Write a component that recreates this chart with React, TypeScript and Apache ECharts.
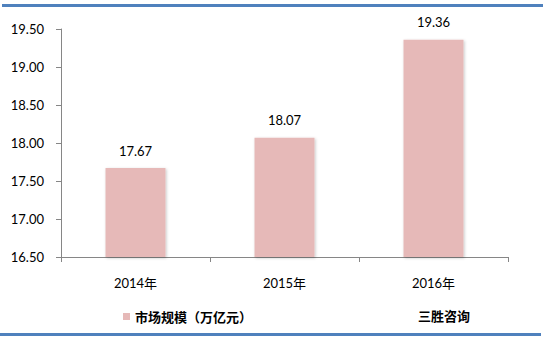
import React, { useEffect, useRef } from "react";
import * as echarts from "echarts";

const categories = ["2014年", "2015年", "2016年"];
const values = [17.67, 18.07, 19.36];
const seriesName = "市场规模（万亿元）";
const sourceText = "三胜咨询";

export default function App() {
  const ref = useRef<HTMLDivElement>(null);
  useEffect(() => {
    if (!ref.current) return;
    const chart = echarts.init(ref.current, undefined, { renderer: "svg" });
    const font = "Lato, 'Noto Sans CJK SC', sans-serif";
    chart.setOption({
      animation: false,
      backgroundColor: "#ffffff",
      textStyle: { fontFamily: font },
      grid: { left: 61, right: 35, top: 29, bottom: 86 },
      legend: {
        data: [seriesName],
        left: 123,
        top: 310,
        padding: 0,
        itemWidth: 7,
        itemHeight: 7,
        icon: "rect",
        textStyle: { fontSize: 13, fontWeight: "bold", color: "#000", fontFamily: font },
      },
      xAxis: {
        type: "category",
        data: categories,
        axisLine: { lineStyle: { color: "#868686" } },
        axisTick: { show: true, length: 5, alignWithLabel: false, lineStyle: { color: "#868686" } },
        axisLabel: { fontSize: 13, color: "#000", margin: 19, fontFamily: font },
      },
      yAxis: {
        type: "value",
        min: 16.5,
        max: 19.5,
        interval: 0.5,
        axisLine: { show: true, lineStyle: { color: "#868686" } },
        axisTick: { show: true, length: 5, lineStyle: { color: "#868686" } },
        splitLine: { show: false },
        axisLabel: {
          fontSize: 13,
          color: "#000",
          margin: 17,
          fontFamily: font,
          formatter: (v: number) => v.toFixed(2),
        },
      },
      series: [
        {
          name: seriesName,
          type: "bar",
          data: values,
          barWidth: 60,
          itemStyle: {
            color: "#e6b9b8",
            shadowColor: "rgba(0,0,0,0.22)",
            shadowBlur: 3,
            shadowOffsetX: 1,
            shadowOffsetY: 1,
          },
          label: {
            show: true,
            position: "top",
            distance: 11,
            fontSize: 13,
            color: "#000",
            fontFamily: font,
            formatter: (p: any) => Number(p.value).toFixed(2),
          },
        },
      ],
      graphic: [
        { type: "rect", shape: { x: 2, y: 4, width: 541, height: 3 }, style: { fill: "#4f81bd" } },
        { type: "rect", shape: { x: 0, y: 333, width: 541, height: 3 }, style: { fill: "#4f81bd" } },
        {
          type: "text",
          left: 418,
          top: 309,
          style: { text: sourceText, fontSize: 13, fontWeight: "bold", fill: "#000", fontFamily: font },
        },
      ],
    });
    return () => chart.dispose();
  }, []);
  return (
    <div
      ref={ref}
      style={{ position: "fixed", left: 0, top: 0, width: 543, height: 343 }}
    />
  );
}
